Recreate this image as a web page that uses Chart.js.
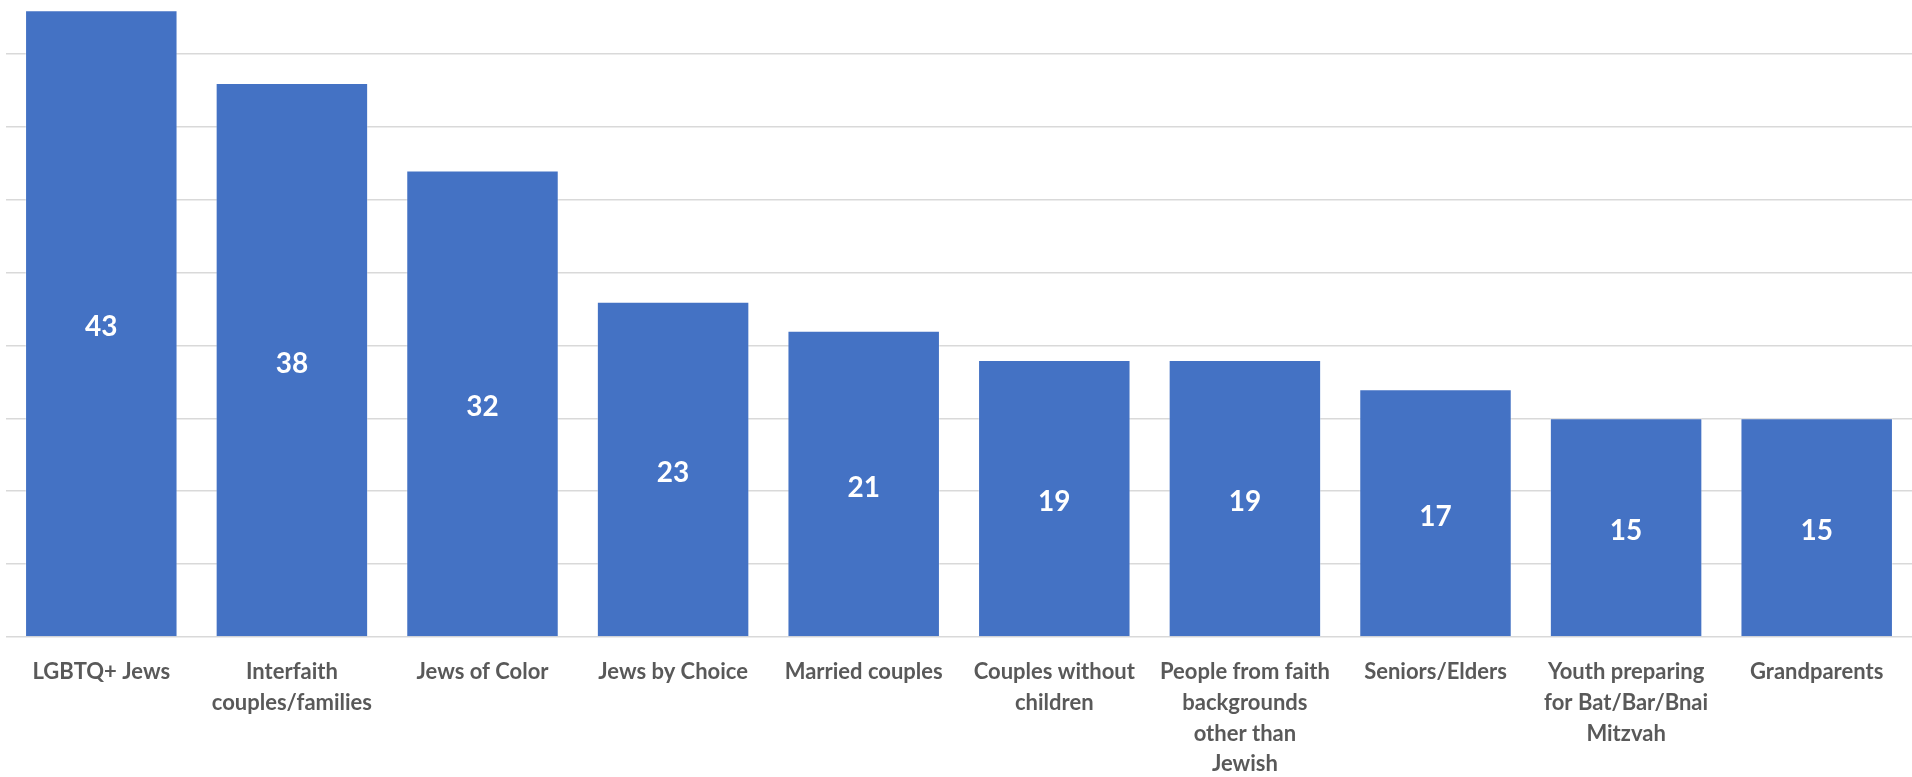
<!DOCTYPE html>
<html>
<head>
<meta charset="utf-8">
<script src="https://cdn.jsdelivr.net/npm/chart.js@4"></script>
<style>
  html, body { margin: 0; padding: 0; background: #fff; overflow: hidden; }
  #wrap { position: absolute; left: 0; top: -19px; width: 1912px; height: 796px; }
</style>
</head>
<body>
<div id="wrap"><canvas id="barChart"></canvas></div>
<script>
const categories = [
  "LGBTQ+ Jews",
  ["Interfaith", "couples/families"],
  "Jews of Color",
  "Jews by Choice",
  "Married couples",
  ["Couples without", "children"],
  ["People from faith", "backgrounds", "other than", "Jewish"],
  "Seniors/Elders",
  ["Youth preparing", "for Bat/Bar/Bnai", "Mitzvah"],
  "Grandparents"
];
const values = [43, 38, 32, 23, 21, 19, 19, 17, 15, 15];

const BAR_BLUE = "#4472C4";
const GRID_GREY = "#d9d9d9";
const LABEL_GREY = "#595959";

// white value labels centered in each bar
const centerLabels = {
  id: "centerLabels",
  afterDatasetsDraw(chart){
    const ctx = chart.ctx;
    const meta = chart.getDatasetMeta(0);
    ctx.save();
    ctx.fillStyle = "#ffffff";
    ctx.font = "bold 28px Lato";
    ctx.textAlign = "center";
    ctx.textBaseline = "middle";
    meta.data.forEach((bar, i) => {
      const mid = (bar.y + bar.base) / 2;
      ctx.fillText(String(values[i]), bar.x, mid + 4);
    });
    ctx.restore();
  }
};

const ctx = document.getElementById("barChart").getContext("2d");
new Chart(ctx, {
  type: "bar",
  data: {
    labels: categories,
    datasets: [{
      data: values,
      backgroundColor: BAR_BLUE,
      borderColor: "rgba(255,255,255,0.35)",
      borderWidth: 1,
      barPercentage: 0.8,
      categoryPercentage: 1.0
    }]
  },
  options: {
    responsive: true,
    maintainAspectRatio: false,
    animation: false,
    layout: { padding: 0 },
    plugins: {
      legend: { display: false },
      tooltip: { enabled: false }
    },
    scales: {
      x: {
        grid: { display: false },
        border: { display: false },
        ticks: {
          color: LABEL_GREY,
          font: { family: "Lato", size: 22, weight: "bold", lineHeight: 1.39 },
          maxRotation: 0,
          autoSkip: false,
          padding: 12
        },
        afterFit(scale){ scale.height = 140; }
      },
      y: {
        min: 0,
        max: 45,
        ticks: { display: false, stepSize: 5 },
        border: { display: false },
        grid: { color: GRID_GREY, lineWidth: 1.5, drawTicks: false },
        afterFit(scale){ scale.width = 6; }
      }
    }
  },
  plugins: [centerLabels]
});
</script>
</body>
</html>
